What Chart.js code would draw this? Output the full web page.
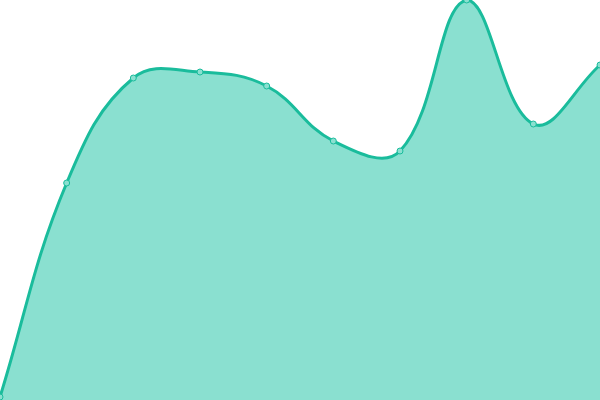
<!DOCTYPE html>
<html>
<head>
<meta charset="utf-8">
<script src="https://cdn.jsdelivr.net/npm/chart.js@4"></script>
<style>
  html, body { margin: 0; padding: 0; background: #fff; overflow: hidden; width: 600px; height: 400px; }
  #wrap { width: 610px; height: 410px; margin: -5px 0 0 -5px; }
</style>
</head>
<body>
<div id="wrap"><canvas id="chart"></canvas></div>
<script>
const labels = ["1", "2", "3", "4", "5", "6", "7", "8", "9", "10"];
const values = [3, 217, 322, 328, 314, 259, 249, 400, 276, 335];

const ctx = document.getElementById("chart").getContext("2d");
new Chart(ctx, {
  type: "line",
  data: {
    labels: labels,
    datasets: [{
      data: values,
      fill: true,
      backgroundColor: "#8ae0d0",
      borderColor: "#1abc9c",
      borderWidth: 3,
      tension: 0.4,
      pointRadius: 3,
      pointBorderWidth: 1,
      pointBackgroundColor: "#8ae0d0",
      pointBorderColor: "#1abc9c"
    }]
  },
  options: {
    responsive: true,
    maintainAspectRatio: false,
    animation: false,
    layout: { padding: 0 },
    scales: {
      x: { display: false, offset: false },
      y: { display: false, min: 0, max: 400 }
    },
    plugins: {
      legend: { display: false },
      tooltip: { enabled: false }
    }
  }
});
</script>
</body>
</html>
